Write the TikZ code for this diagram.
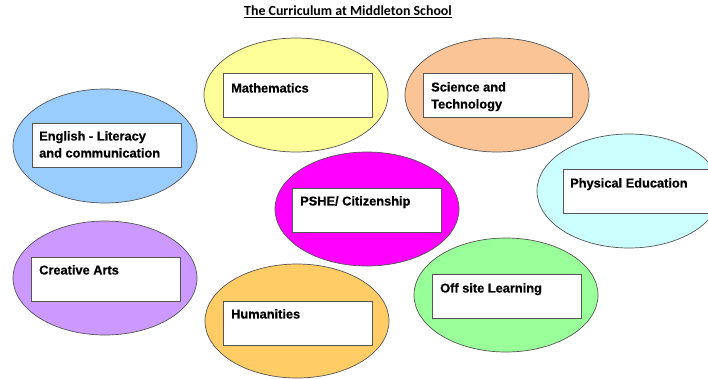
\documentclass[tikz,border=0pt]{standalone}
\usepackage{fontspec}
\setmainfont{Liberation Sans}
\newfontfamily\labfont[FakeBold=0.6]{Liberation Sans}
\newfontfamily\titlefont{Carlito}
\usetikzlibrary{shapes.geometric}
\definecolor{cblue}{HTML}{99CCFF}
\definecolor{cyellow}{HTML}{FFFF99}
\definecolor{cpeach}{HTML}{FBC496}
\definecolor{cmag}{HTML}{FF00FF}
\definecolor{ccyan}{HTML}{CCFFFF}
\definecolor{cviolet}{HTML}{CC99FF}
\definecolor{corange}{HTML}{FFCC66}
\definecolor{cgreen}{HTML}{99FF99}
\definecolor{edge}{HTML}{555555}
\tikzset{
  blob/.style={ellipse, draw=edge, line width=0.7pt, minimum width=184pt, minimum height=114pt, inner sep=0pt},
  card/.style={rectangle, draw=edge, line width=1.1pt, fill=white, minimum width=149pt, minimum height=44pt, inner sep=0pt},
  lab/.style={anchor=north west, inner sep=0pt, align=left, font=\labfont\bfseries\fontsize{12.8pt}{17pt}\selectfont},
}
\begin{document}
\begin{tikzpicture}[x=1pt,y=-1pt]
\clip (0,0) rectangle (708,378);
\fill[white] (0,0) rectangle (708,378);
\node[inner sep=0pt, font=\titlefont\bfseries\fontsize{13.9pt}{15pt}\selectfont] (title) at (348,12) {\underline{The Curriculum at Middleton School}};

% ellipses
\node[blob, fill=cblue]   (eng)  at (105,146) {};
\node[blob, fill=cyellow] (math) at (296,95) {};
\node[blob, fill=cpeach]  (sci)  at (497,95) {};
\node[blob, fill=cmag]    (pshe) at (367,209) {};
\node[blob, fill=ccyan]   (pe)   at (629,191) {};
\node[blob, fill=cviolet] (art)  at (105,278) {};
\node[blob, fill=corange] (hum)  at (297,321) {};
\node[blob, fill=cgreen]  (off)  at (506,295) {};

% cards
\node[card, anchor=north west] (engc)  at (32,123) {};
\node[card, anchor=north west] (mathc) at (223,73) {};
\node[card, anchor=north west] (scic)  at (423,73) {};
\node[card, anchor=north west] (pshec) at (292,188) {};
\node[card, anchor=north west] (pec)   at (563,169) {};
\node[card, anchor=north west] (artc)  at (31,257) {};
\node[card, anchor=north west] (humc)  at (223,301) {};
\node[card, anchor=north west] (offc)  at (432,274) {};

% labels
\node[lab] (engt)  at ([xshift=7pt,yshift=-8pt]engc.north west) {English - Literacy\\and communication};
\node[lab] (matht) at ([xshift=8pt,yshift=-10pt]mathc.north west) {Mathematics};
\node[lab] (scit)  at ([xshift=8pt,yshift=-9pt]scic.north west) {Science and\\Technology};
\node[lab] (psht)  at ([xshift=8pt,yshift=-8pt]pshec.north west) {PSHE/ Citizenship};
\node[lab] (pet)   at ([xshift=7pt,yshift=-9pt]pec.north west) {Physical Education};
\node[lab] (artt)  at ([xshift=8pt,yshift=-8pt]artc.north west) {Creative Arts};
\node[lab] (humt)  at ([xshift=8pt,yshift=-8pt]humc.north west) {Humanities};
\node[lab] (offt)  at ([xshift=8pt,yshift=-9pt]offc.north west) {Off site Learning};
\end{tikzpicture}
\end{document}
